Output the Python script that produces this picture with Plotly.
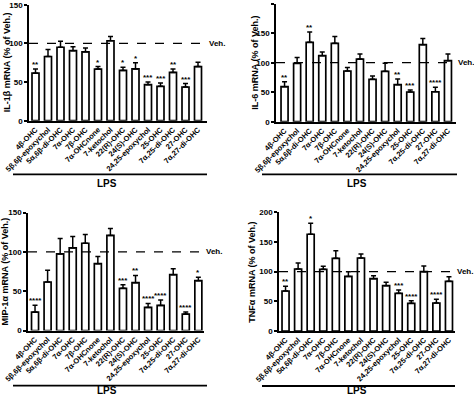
import plotly.graph_objects as go

W, H = 474, 396

cats = ["4β-OHC", "5β,6β-epoxychol", "5α,6β-di-OHC", "7α-OHC", "7β-OHC",
        "7α-OHCnone", "7-ketochol", "22(R)-OHC", "24(S)-OHC", "24,25-epoxychol",
        "25-OHC", "7α,25-di-OHC", "27-OHC", "7α,27-di-OHC"]

il1b = [61.5, 83, 95, 90.6, 89, 66.7, 103.4, 65, 67, 46.6, 44.4, 62.4, 43.6, 70]
il1b_err = [5.5, 9, 7.6, 5.1, 5, 3.3, 5.6, 4, 8, 3.4, 4.3, 4.6, 4.4, 5.6]
il1b_sig = ["**", "", "", "", "", "*", "", "*", "*", "***", "***", "**", "***", ""]

il6 = [59.3, 98.9, 134.5, 111.9, 132.8, 85.9, 106.2, 71.8, 85.3, 62.7, 50.3, 130.5, 50.8, 103.4]
il6_err = [8.5, 10.1, 17.5, 6.1, 11.8, 6.1, 8.5, 5.6, 13.6, 9.6, 3.4, 10.5, 7.4, 11.3]
il6_sig = ["**", "", "**", "", "", "", "", "", "", "**", "***", "", "****", ""]

mip1a = [23.4, 61.7, 97.4, 105, 111, 85, 120.9, 53.6, 60.9, 29.4, 31.9, 71, 20.9, 63.4]
mip1a_err = [8.6, 14.9, 19.6, 14.6, 11, 9, 8.9, 4.7, 9.1, 5.1, 6.8, 7.7, 2.5, 4.3]
mip1a_sig = ["****", "", "", "", "", "", "", "***", "**", "****", "****", "", "****", "*"]

tnfa = [67.4, 104.5, 163, 104, 122.5, 92, 123, 88.2, 76.4, 63.5, 46.6, 100, 47.2, 83.7]
tnfa_err = [7.9, 10.1, 18.5, 5, 12.9, 8, 6.8, 5.1, 5.6, 5.5, 4.4, 9.6, 6.2, 7.9]
tnfa_sig = ["**", "", "*", "", "", "", "", "", "", "***", "****", "", "****", ""]

y_titles = ["IL-1β mRNA (% of Veh.)", "IL-6 mRNA (% of Veh.)",
            "MIP-1α mRNA (% of Veh.)", "TNFα mRNA (% of Veh.)"]
y_max = [150, 200, 150, 200]
y_ticks = [[0, 50, 100, 150], [0, 50, 100, 150, 200],
           [0, 50, 100, 150], [0, 50, 100, 150, 200]]
veh_value = 100
group_label = "LPS"

series = [(il1b, il1b_err, il1b_sig), (il6, il6_err, il6_sig),
          (mip1a, mip1a_err, mip1a_sig), (tnfa, tnfa_err, tnfa_sig)]

# layout geometry in pixels: (axis left, axis right, y of zero, y of top)
geo = [(29, 207, 120.7, 4.7), (276, 456, 121.7, 3.7),
       (28, 204, 330.5, 212.6), (279, 455, 331, 212.3)]
xranges = [[-0.52, 13.72], [-0.68, 13.64], [-0.56, 13.45], [-0.52, 13.48]]
title_x = [6.5, 255, 5, 252]
lps_line = [(13, 207, 174.3), (262, 457, 174.3), (13, 207, 385.7), (262, 455, 386)]
lps_text = [(107, 183), (357, 183), (107, 390.5), (357, 390.5)]

FONT = "Liberation Sans, Arial, sans-serif"
fig = go.Figure()
annotations = []
shapes = []

for i, (vals, errs, sigs) in enumerate(series):
    n = "" if i == 0 else str(i + 1)
    xa, ya = "x" + n, "y" + n
    fig.add_trace(go.Bar(
        x=cats, y=vals, xaxis=xa, yaxis=ya, width=0.56,
        marker=dict(color="white", line=dict(color="black", width=1.7)),
        error_y=dict(type="data", symmetric=False, array=errs,
                     arrayminus=[0] * len(errs), color="black",
                     thickness=1.5, width=2.5),
        showlegend=False, hoverinfo="skip"))
    l, r, y0, y1 = geo[i]
    fig.layout["xaxis" + n] = dict(
        domain=[l / W, r / W], anchor=ya, type="category", automargin=False,
        range=xranges[i], showline=True, linecolor="black", linewidth=1.6,
        ticks="", tickangle=-45, showgrid=False, zeroline=False,
        tickfont=dict(family=FONT, size=7.5, color="black", weight="bold"))
    fig.layout["yaxis" + n] = dict(
        domain=[1 - y0 / H, 1 - y1 / H], anchor=xa, range=[0, y_max[i]],
        automargin=False,
        tickvals=y_ticks[i], showline=True, linecolor="black", linewidth=1.6,
        ticks="outside", ticklen=3, tickwidth=1.5, tickcolor="black",
        showgrid=False, zeroline=False,
        tickfont=dict(family=FONT, size=8, color="black", weight="bold"))
    # Veh. dashed line
    shapes.append(dict(type="line", xref=xa + " domain", yref=ya,
                       x0=0, x1=1, y0=veh_value, y1=veh_value,
                       line=dict(color="black", width=1.3, dash="dash")))
    annotations.append(dict(text="Veh.", xref=xa + " domain", yref=ya,
                            x=1, y=veh_value, xanchor="left", yanchor="middle",
                            xshift=0, showarrow=False,
                            font=dict(family=FONT, size=8, color="black", weight="bold")))
    # significance stars
    for c, v, e, s in zip(cats, vals, errs, sigs):
        if s:
            annotations.append(dict(text=s, xref=xa, yref=ya, x=c, y=v + e,
                                    xanchor="center", yanchor="bottom",
                                    showarrow=False, yshift=-2,
                                    font=dict(family=FONT, size=8, color="black", weight="bold")))
    # y titles
    annotations.append(dict(text=y_titles[i], xref="paper", yref="paper",
                            x=title_x[i] / W, y=1 - (y0 + y1) / 2 / H,
                            xanchor="center", yanchor="middle", textangle=-90,
                            showarrow=False,
                            font=dict(family=FONT, size=9, color="black", weight="bold")))
    # LPS bracket
    lx0, lx1, ly = lps_line[i]
    shapes.append(dict(type="line", xref="paper", yref="paper",
                       x0=lx0 / W, x1=lx1 / W, y0=1 - ly / H, y1=1 - ly / H,
                       line=dict(color="black", width=1.8)))
    tx, ty = lps_text[i]
    annotations.append(dict(text=group_label, xref="paper", yref="paper",
                            x=tx / W, y=1 - ty / H, xanchor="center", yanchor="middle",
                            showarrow=False,
                            font=dict(family=FONT, size=10, color="black", weight="bold")))

fig.update_layout(template="none", width=W, height=H,
                  margin=dict(l=0, r=0, t=0, b=0, autoexpand=False),
                  paper_bgcolor="white", plot_bgcolor="white",
                  shapes=shapes, annotations=annotations, bargap=0.4)

fig.write_html("out.html", config={"displayModeBar": False},
               post_script="document.body.style.margin='0px';document.body.style.overflow='hidden';")
